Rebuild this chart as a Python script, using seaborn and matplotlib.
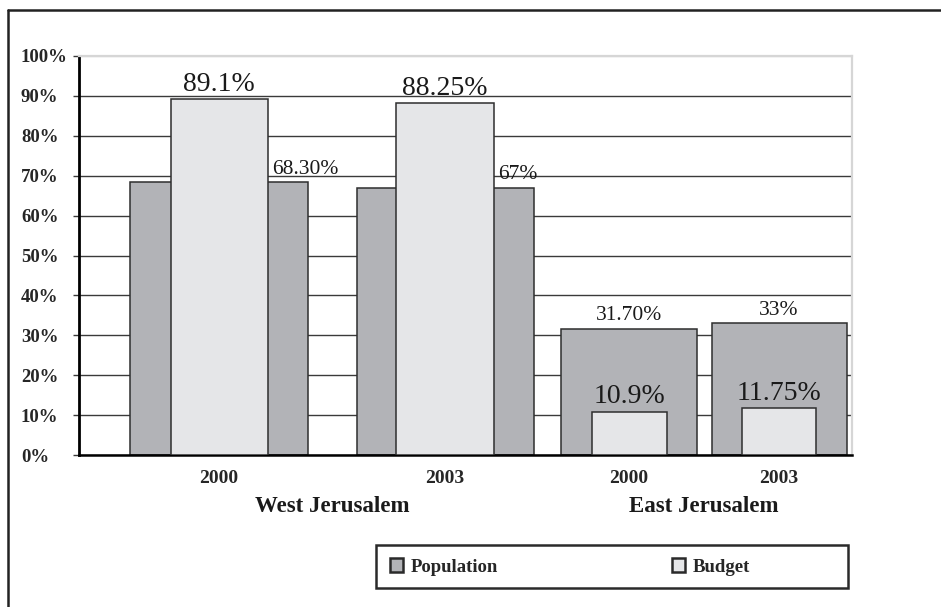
import matplotlib
matplotlib.use("Agg")
import matplotlib.pyplot as plt
import matplotlib.transforms as mtransforms
from matplotlib.patches import Patch, Rectangle
from matplotlib.lines import Line2D
import pandas as pd
import seaborn as sns

# ---- data ----
years = ["2000", "2003", "2000", "2003"]
regions = ["West Jerusalem", "West Jerusalem", "East Jerusalem", "East Jerusalem"]
population = [68.30, 67, 31.70, 33]
budget = [89.1, 88.25, 10.9, 11.75]
population_labels = ["68.30%", "67%", "31.70%", "33%"]
budget_labels = ["89.1%", "88.25%", "10.9%", "11.75%"]
series_names = ["Population", "Budget"]
y_ticks = list(range(0, 101, 10))

# ---- layout (horizontal units of the axes) ----
slot_centers = [140, 366, 550, 700]
population_widths = [178, 177, 136, 135]
budget_widths = [97, 98, 75, 74]
x_span = 773

pop_color = "#b2b3b7"
budget_color = "#e5e6e8"
edge_color = "#2e2e2e"

sns.set_theme(style="white")
plt.rcParams["font.family"] = ["Liberation Serif", "DejaVu Serif"]

fig = plt.figure(figsize=(9.41, 6.07), dpi=100)
ax = fig.add_axes([79 / 941, 152 / 607, 773 / 941, 399 / 607])

df = pd.DataFrame({
    "pos": slot_centers,
    "year": years,
    "region": regions,
    "Population": population,
    "Budget": budget,
})

sns.barplot(data=df, x="pos", y="Population", native_scale=True, orient="x",
            color=pop_color, edgecolor=edge_color, linewidth=1.1,
            saturation=1, errorbar=None, ax=ax, zorder=2)
n_pop = len(ax.patches)
sns.barplot(data=df, x="pos", y="Budget", native_scale=True, orient="x",
            color=budget_color, edgecolor=edge_color, linewidth=1.1,
            saturation=1, errorbar=None, ax=ax, zorder=3)

pop_bars = ax.patches[:n_pop]
budget_bars = ax.patches[n_pop:]
for bar, c, w in zip(pop_bars, slot_centers, population_widths):
    bar.set_x(c - w / 2)
    bar.set_width(w)
for bar, c, w in zip(budget_bars, slot_centers, budget_widths):
    bar.set_x(c - w / 2)
    bar.set_width(w)

ax.set_xlim(0, x_span)
ax.set_ylim(0, 100)
ax.set_xlabel("")
ax.set_ylabel("")

# axes frame
ax.spines["left"].set_color("black")
ax.spines["left"].set_linewidth(2.0)
ax.spines["bottom"].set_color("black")
ax.spines["bottom"].set_linewidth(1.8)
for side in ("top", "right"):
    ax.spines[side].set_color("#d6d6d6")
    ax.spines[side].set_linewidth(1.6)

# y axis: ticks, grid, left-aligned labels
ax.set_yticks(y_ticks, [f"{t}%" for t in y_ticks])
ax.yaxis.grid(True, color="#3a3a3a", linewidth=1.0, zorder=0)
ax.xaxis.grid(False)
ax.set_axisbelow(True)
ax.tick_params(axis="y", which="major", left=True, length=4.3, width=1.0,
               color="#3a3a3a", pad=37.5, labelsize=13.5)
for lab in ax.get_yticklabels():
    lab.set_horizontalalignment("left")
    lab.set_fontweight("bold")
ax.get_ygridlines()[-1].set_color("#d6d6d6")
ax.yaxis.get_major_ticks()[-1].tick1line.set_color("#d6d6d6")

# x axis: years, then regions below
ax.set_xticks(slot_centers, years)
ax.tick_params(axis="x", which="major", bottom=False, length=0, pad=10.5, labelsize=14)
for lab in ax.get_xticklabels():
    lab.set_fontweight("bold")

trans = mtransforms.blended_transform_factory(ax.transData, ax.transAxes)
for region in ["West Jerusalem", "East Jerusalem"]:
    xs = [c for c, r in zip(slot_centers, regions) if r == region]
    ax.text(sum(xs) / len(xs), -0.130, region, transform=trans,
            ha="center", va="center", fontsize=16.5, fontweight="bold", color="#1a1a1a")

# value labels
for i, (c, v, txt) in enumerate(zip(slot_centers, population, population_labels)):
    if regions[i] == "West Jerusalem":
        ax.annotate(txt, xy=(c + budget_widths[i] / 2, v), xytext=(3, 6),
                    textcoords="offset points", ha="left", va="baseline",
                    fontsize=15.5, color="#1a1a1a", zorder=5)
    else:
        ax.annotate(txt, xy=(c, v), xytext=(0, 6), textcoords="offset points",
                    ha="center", va="baseline", fontsize=15.5, color="#1a1a1a", zorder=5)
for c, v, txt in zip(slot_centers, budget, budget_labels):
    ax.annotate(txt, xy=(c, v), xytext=(0, 6), textcoords="offset points",
                ha="center", va="baseline", fontsize=20, color="#1a1a1a", zorder=5)

# legend
handles = [
    Patch(facecolor=pop_color, edgecolor="#2a2a2a", linewidth=1.8),
    Patch(facecolor=budget_color, edgecolor="#2a2a2a", linewidth=1.8),
]
fig.legend(handles, series_names, loc="center left",
           bbox_to_anchor=(390 / 941, 1 - 567 / 607), ncol=2, frameon=False,
           borderpad=0, borderaxespad=0, handlelength=0.7, handleheight=0.7,
           handletextpad=0.38, columnspacing=9.3,
           prop={"family": "Liberation Serif", "weight": "bold", "size": 13.5})
fig.add_artist(Rectangle((376 / 941, 1 - 588 / 607), 472 / 941, 43 / 607,
                         transform=fig.transFigure, fill=False,
                         edgecolor="#2a2a2a", linewidth=1.8))

# outer frame (left and top edges)
fig.add_artist(Line2D([7.5 / 941, 7.5 / 941], [0, 1 - 9.5 / 607],
                      transform=fig.transFigure, color="#222222", linewidth=1.8))
fig.add_artist(Line2D([7.5 / 941, 1], [1 - 9.5 / 607, 1 - 9.5 / 607],
                      transform=fig.transFigure, color="#222222", linewidth=1.8))

fig.savefig("out.png", dpi=100, facecolor="white")
